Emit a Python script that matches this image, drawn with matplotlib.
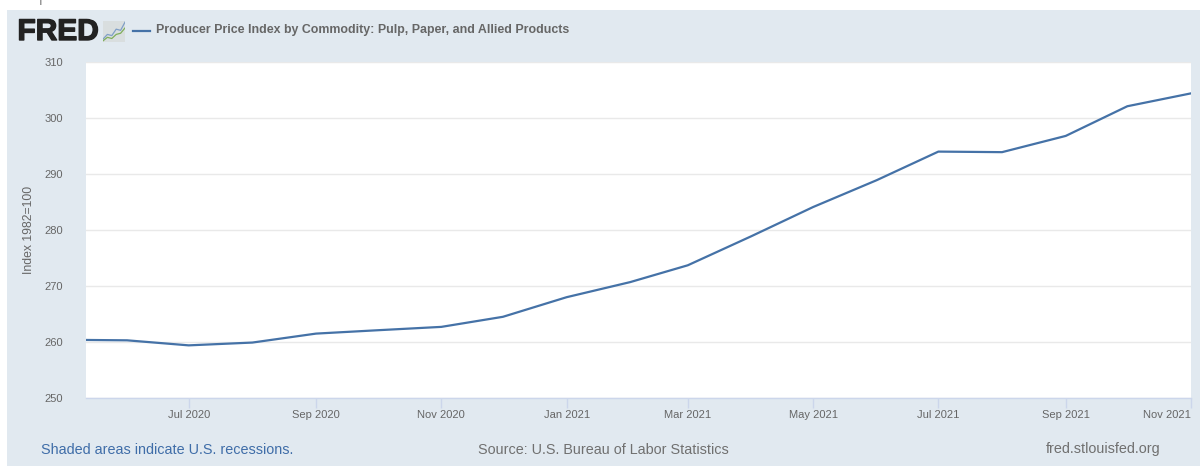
import matplotlib
matplotlib.use("Agg")
import matplotlib.pyplot as plt
import matplotlib.dates as mdates
import matplotlib.patheffects as pe
from matplotlib.patches import Rectangle
import pandas as pd

plt.rcParams['font.family'] = ['Liberation Sans', 'DejaVu Sans']

months = pd.date_range("2020-05-01", "2021-11-01", freq="MS")
ppi_values = [260.4, 260.3, 259.4, 259.9, 261.5, 262.1, 262.7, 264.5, 268.0, 270.7,
              273.7, 278.9, 284.1, 288.9, 294.0, 293.9, 296.8, 302.1, 304.4]
y_ticks = [250, 260, 270, 280, 290, 300, 310]
x_tick_dates = pd.date_range("2020-07-01", "2021-11-01", freq="2MS")
series_name = "Producer Price Index by Commodity: Pulp, Paper, and Allied Products"

W, H = 1200, 466
fig = plt.figure(figsize=(W / 100, H / 100), dpi=100, facecolor="white")
PANEL = "#e1e9f0"
fig.add_artist(Rectangle((7 / W, 0), 1 - 7 / W, 1 - 10 / H, transform=fig.transFigure,
                         facecolor=PANEL, edgecolor="none", zorder=-5))

def fx(px): return px / W
def fy(py): return 1 - py / H

ax = fig.add_axes([fx(86), fy(398), (1191 - 86) / W, (398 - 62) / H], facecolor="white")
ax.plot(months, ppi_values, color="#4572a7", lw=1.6, solid_joinstyle="round", zorder=3)
ax.set_xlim(pd.Timestamp("2020-05-12"), pd.Timestamp("2021-11-01"))
ax.set_ylim(250, 310)

ax.set_yticks(y_ticks)
ax.grid(axis="y", color="#e9e9e9", lw=1)
ax.set_axisbelow(True)
ax.tick_params(axis="y", length=0, pad=16.5, labelsize=8, labelcolor="#666666")
ax.set_xticks(x_tick_dates)
ax.xaxis.set_major_formatter(mdates.DateFormatter("%b %Y"))
ax.tick_params(axis="x", length=7, width=1, color="#ccd6eb", pad=1.5, labelsize=8, labelcolor="#666666")
for lab in ax.get_xticklabels():
    lab.set_ha("center")
ax.get_xticklabels()[-1].set_ha("right")
for s in ["top", "left", "right"]:
    ax.spines[s].set_visible(False)
ax.spines["bottom"].set_color("#ccd6eb")
ax.spines["bottom"].set_linewidth(1)
ax.set_ylabel("Index 1982=100", fontsize=8.8, color="#666666")
ax.yaxis.set_label_coords((35 - 86) / (1191 - 86), 0.5)

# header
fig.text(fx(17.5), fy(32), "FRED", fontsize=21.5, fontweight="bold", color="#222222", va="center", ha="left",
         path_effects=[pe.withStroke(linewidth=1.0, foreground="#222222")])
logo = fig.add_axes([fx(103), fy(42), 22 / W, 21 / H], facecolor="#d9dedf")
logo.plot([0, 1, 2, 3, 4, 5], [0.5, 1.3, 1.1, 2.2, 2.0, 3.4], color="#7f9fc6", lw=0.9)
logo.plot([0, 1, 2, 3, 4, 5], [0.2, 0.8, 0.6, 1.3, 1.5, 2.4], color="#7fae5a", lw=0.9)
logo.set_xlim(0, 5); logo.set_ylim(0, 3.6)
logo.set_xticks([]); logo.set_yticks([])
for s in logo.spines.values():
    s.set_visible(False)
fig.add_artist(plt.Line2D([fx(133), fx(150)], [fy(30.5), fy(30.5)], color="#4572a7", lw=1.6,
                          transform=fig.transFigure))
fig.text(fx(156), fy(30.5), series_name, fontsize=8.9, fontweight="bold", color="#666666", va="center", ha="left")

# footer
fig.text(fx(41), fy(449.5), "Shaded areas indicate U.S. recessions.", fontsize=10.35, color="#3f6da8", va="center")
fig.text(fx(478), fy(449.5), "Source: U.S. Bureau of Labor Statistics", fontsize=10.4, color="#707070", va="center")
fig.text(fx(1160), fy(449.5), "fred.stlouisfed.org", fontsize=10.35, color="#707070", va="center", ha="right")

# cropped fragment at the very top
fig.text(fx(40.5), 0.9995, "|", fontsize=4.5, fontweight="bold", color="#333333", va="top", ha="center")

fig.savefig("out.png", dpi=100, facecolor="white")
